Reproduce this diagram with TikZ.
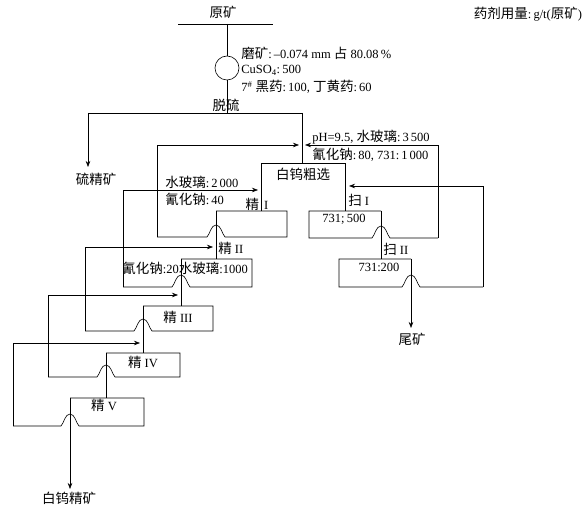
\documentclass[tikz,border=0pt]{standalone}
\usepackage{fontspec}
\setmainfont{Liberation Serif}
\newfontfamily\cjk[Scale=1.08]{Noto Sans CJK SC}
\usetikzlibrary{arrows.meta}
\newcommand{\zh}[1]{{\cjk #1}}
% hump over a vertical line at x=#1 on a bottom line at y=#2 (going left / going right)
\newcommand{\humpL}[2]{-- ({#1+9},#2) .. controls ({#1+6},{#2-3}) and ({#1+5},{#2-12}) .. ({#1},{#2-12}) .. controls ({#1-5},{#2-12}) and ({#1-6},{#2-3}) .. ({#1-9},#2)}
\newcommand{\humpR}[2]{-- ({#1-9},#2) .. controls ({#1-6},{#2-3}) and ({#1-5},{#2-12}) .. ({#1},{#2-12}) .. controls ({#1+5},{#2-12}) and ({#1+6},{#2-3}) .. ({#1+9},#2)}
\begin{document}
\begin{tikzpicture}[x=1pt,y=-1pt, line width=0.6pt,
  arr/.style={-{Stealth[length=6pt,width=4.5pt]}},
  lbl/.style={font=\fontsize{12.5}{14}\selectfont, inner sep=0pt},
  lw/.style={lbl, anchor=west},
]
\useasboundingbox (0,0) rectangle (586,510);

% ---------- coordinates ----------
\coordinate (oreL) at (178,24);
\coordinate (oreR) at (273,24);
\coordinate (oreM) at (227,24);
\node[circle, draw, minimum size=24pt, inner sep=0pt] (mill) at (227,68) {};
\coordinate (ds) at (227,113);
\coordinate (dsL) at (88,113);
\coordinate (dsR) at (302,113);
\coordinate (sconc) at (88,167);
% rougher
\coordinate (roF) at (302,163);
\coordinate (roL) at (261,163);
\coordinate (roR) at (345,163);
\coordinate (roInL) at (299,145);
\coordinate (roInR) at (305,145);
% cleaners
\coordinate (c1F) at (261,211);
\coordinate (c1L) at (216,211);
\coordinate (c1R) at (287,211);
\coordinate (c1BR) at (287,237);
\coordinate (c1ret) at (157,237);
\coordinate (c1retT) at (157,145);
\coordinate (c1In) at (258,190);

\coordinate (c2F) at (216,259);
\coordinate (c2L) at (181,259);
\coordinate (c2R) at (252,259);
\coordinate (c2BR) at (252,287);
\coordinate (c2ret) at (123,287);
\coordinate (c2retT) at (123,190);
\coordinate (c2In) at (213,247);

\coordinate (c3F) at (181,306);
\coordinate (c3L) at (143,306);
\coordinate (c3R) at (213,306);
\coordinate (c3BR) at (213,331);
\coordinate (c3ret) at (85,331);
\coordinate (c3retT) at (85,247);
\coordinate (c3In) at (178,295);

\coordinate (c4F) at (143,353);
\coordinate (c4L) at (106,353);
\coordinate (c4R) at (180,353);
\coordinate (c4BR) at (180,377);
\coordinate (c4ret) at (48,377);
\coordinate (c4retT) at (48,295);
\coordinate (c4In) at (140,343);

\coordinate (c5F) at (106,398);
\coordinate (c5L) at (70,398);
\coordinate (c5R) at (144,398);
\coordinate (c5BR) at (144,426);
\coordinate (c5ret) at (13,426);
\coordinate (c5retT) at (13,343);
\coordinate (wconc) at (70,489);
% scavengers
\coordinate (s1F) at (345,211);
\coordinate (s1L) at (309,211);
\coordinate (s1R) at (381,211);
\coordinate (s1BL) at (309,238);
\coordinate (s1ret) at (438,238);
\coordinate (s1retT) at (438,145);
\coordinate (s1In) at (349,186);

\coordinate (s2F) at (381,259);
\coordinate (s2L) at (339,259);
\coordinate (s2R) at (411,259);
\coordinate (s2BL) at (339,287);
\coordinate (s2ret) at (483,287);
\coordinate (s2retT) at (483,186);
\coordinate (tail) at (411,328);

% ---------- lines ----------
\draw (oreL) -- (oreR);
\draw (oreM) -- (mill) -- (ds);
\draw (dsL) -- (dsR);
\draw[arr] (dsL) -- (sconc);
\draw (dsR) -- (roF);
% rougher
\draw (c1F) -- (roL) -- (roR) -- (s1F);
% cleaner I
\draw (c1L) -- (c1R) -- (c1BR) \humpL{216}{237} -- (c1ret);
\draw[arr] (c1ret) -- (c1retT) -- (roInL);
\draw (c1L) -- (c2F);
% cleaner II
\draw (c2L) -- (c2R) -- (c2BR) \humpL{181}{287} -- (c2ret);
\draw[arr] (c2ret) -- (c2retT) -- (c1In);
\draw (c2L) -- (c3F);
% cleaner III
\draw (c3L) -- (c3R) -- (c3BR) \humpL{143}{331} -- (c3ret);
\draw[arr] (c3ret) -- (c3retT) -- (c2In);
\draw (c3L) -- (c4F);
% cleaner IV
\draw (c4L) -- (c4R) -- (c4BR) \humpL{106}{377} -- (c4ret);
\draw[arr] (c4ret) -- (c4retT) -- (c3In);
\draw (c4L) -- (c5F);
% cleaner V
\draw (c5L) -- (c5R) -- (c5BR) \humpL{70}{426} -- (c5ret);
\draw[arr] (c5ret) -- (c5retT) -- (c4In);
\draw[arr] (c5L) -- (wconc);
% scavenger I
\draw (s1R) -- (s1L) -- (s1BL) \humpR{381}{238} -- (s1ret);
\draw[arr] (s1ret) -- (s1retT) -- (roInR);
\draw (s1R) -- (s2F);
% scavenger II
\draw (s2R) -- (s2L) -- (s2BL) \humpR{411}{287} -- (s2ret);
\draw[arr] (s2ret) -- (s2retT) -- (s1In);
\draw[arr] (s2R) -- (tail);

% ---------- labels ----------
\node[lbl] (tOre) at (223,12) {\zh{原矿}};
\node[lw] (tMill) at (241,53) {\zh{磨矿}:\,–0.074 mm \zh{占} 80.08\,\%};
\node[lw] (tCu) at (241,70) {CuSO\textsubscript{4}:\,500};
\node[lw] (tXan) at (241,87) {7\textsuperscript{\#} \zh{黑药}:\,100, \zh{丁黄药}:\,60};
\node[lbl] (tDs) at (226,105) {\zh{脱硫}};
\node[lbl] (tSc) at (96,179) {\zh{硫精矿}};
\node[lw] (tRo1) at (312,137) {pH=9.5, \zh{水玻璃}:\,3\,500};
\node[lw] (tRo2) at (312,155) {\zh{氰化钠}:\,80, 731:\,1\,000};
\node[lbl] (tRo) at (303,174) {\zh{白钨粗选}};
\node[lw] (tC1a) at (165,182) {\zh{水玻璃}:\,2\,000};
\node[lw] (tC1b) at (165,199) {\zh{氰化钠}:\,40};
\node[lbl] (tC1) at (257,204) {\zh{精}\hspace{5pt}I};
\node[lw] (tC2) at (218,248) {\zh{精} II};
\node[lw] (tC2r) at (122,268) {\zh{氰化钠}:20\zh{水玻璃}:1000};
\node[lbl] (tC3) at (178,317) {\zh{精} III};
\node[lbl] (tC4) at (143,362) {\zh{精} IV};
\node[lbl] (tC5) at (104,405) {\zh{精} V};
\node[lbl] (tW) at (69,498) {\zh{白钨精矿}};
\node[lw] (tS1) at (348,200) {\zh{扫} I};
\node[lbl] (tS1r) at (344,219) {731;\,500};
\node[lw] (tS2) at (383,249) {\zh{扫} II};
\node[lbl] (tS2r) at (379,267) {731:200};
\node[lbl] (tT) at (412,339) {\zh{尾矿}};
\node[lbl] (tDose) at (528,14) {\zh{药剂用量}:\,g/t(\zh{原矿})};
\end{tikzpicture}
\end{document}
